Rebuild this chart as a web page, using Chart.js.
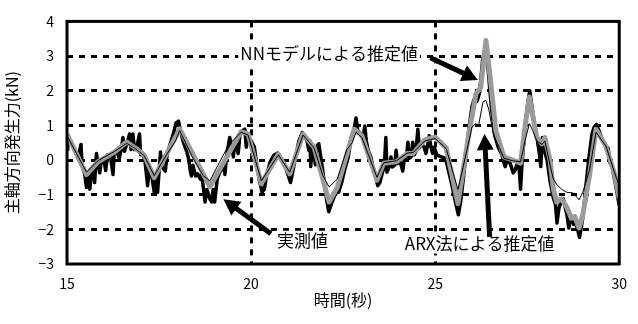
<!DOCTYPE html>
<html lang="ja">
<head>
<meta charset="utf-8">
<title>主軸方向発生力</title>
<script src="https://cdn.jsdelivr.net/npm/chart.js@4.4.0/dist/chart.umd.min.js"></script>
<style>
html, body { margin: 0; padding: 0; background: #fff; }
canvas { display: block; }
</style>
</head>
<body>
<canvas id="c" width="638" height="324"></canvas>
<script>
// 時間(秒), 主軸方向発生力(kN)
const measured = [
  [15.00,0.30],[15.02,0.68],[15.10,0.55],[15.20,0.30],[15.30,0.05],[15.38,0.45],[15.41,-0.15],[15.48,-0.40],
  [15.53,-0.79],[15.57,-0.45],[15.62,-0.84],[15.66,-0.40],[15.72,-0.25],[15.75,-0.65],[15.78,-0.15],[15.80,0.19],
  [15.84,-0.10],[15.89,-0.37],[15.93,-0.05],[16.00,0.05],[16.05,-0.30],[16.10,0.15],[16.18,0.10],[16.25,-0.42],
  [16.28,0.20],[16.35,0.25],[16.42,0.05],[16.48,0.35],[16.52,0.65],[16.56,0.25],[16.62,0.45],[16.70,0.75],
  [16.74,0.30],[16.79,0.75],[16.83,0.30],[16.90,0.40],[16.97,0.75],[17.00,0.15],[17.06,0.20],[17.12,-0.05],
  [17.19,-0.74],[17.23,-0.25],[17.30,-0.45],[17.37,-0.93],[17.42,-0.55],[17.46,-0.93],[17.50,-0.35],[17.54,0.23],
  [17.58,-0.20],[17.67,-0.32],[17.72,0.15],[17.80,0.45],[17.90,0.80],[17.96,1.07],[18.03,1.12],[18.08,0.85],
  [18.15,0.55],[18.25,0.25],[18.30,0.05],[18.35,-0.32],[18.38,-0.46],[18.42,-0.15],[18.49,-0.46],[18.55,-0.40],
  [18.62,-0.55],[18.66,-0.42],[18.71,-0.85],[18.75,-1.21],[18.80,-0.85],[18.88,-1.12],[18.93,-1.21],[18.97,-0.85],
  [19.01,-1.21],[19.08,-0.55],[19.15,-0.35],[19.20,-0.28],[19.25,-0.05],[19.29,-0.42],[19.33,0.10],[19.42,0.65],
  [19.47,0.40],[19.52,0.09],[19.56,0.55],[19.65,0.19],[19.70,0.75],[19.77,0.85],[19.83,0.89],[19.87,0.37],
  [19.92,0.70],[20.00,0.56],[20.09,0.37],[20.15,-0.10],[20.22,-0.55],[20.30,-0.93],[20.36,-0.84],[20.42,-0.45],
  [20.52,-0.05],[20.62,0.14],[20.72,0.20],[20.80,0.05],[20.85,0.00],[20.90,-0.09],[20.98,-0.35],[21.07,-0.65],
  [21.13,-0.35],[21.22,0.15],[21.30,0.55],[21.39,0.79],[21.45,0.70],[21.52,0.55],[21.57,0.28],[21.60,0.55],
  [21.62,-0.19],[21.66,0.45],[21.75,-0.14],[21.79,0.40],[21.84,0.47],[21.92,-0.10],[22.00,-0.75],[22.06,-1.20],
  [22.11,-1.49],[22.20,-1.21],[22.30,-0.95],[22.38,-0.93],[22.46,-0.65],[22.55,-0.25],[22.64,0.09],[22.72,0.65],
  [22.80,0.90],[22.85,1.21],[22.90,0.84],[22.98,0.75],[23.05,0.70],[23.09,0.98],[23.13,0.55],[23.18,0.28],
  [23.25,0.10],[23.31,-0.19],[23.38,-0.45],[23.44,-0.74],[23.50,-0.65],[23.57,-0.35],[23.62,-0.20],[23.66,0.65],
  [23.69,-0.35],[23.75,-0.20],[23.80,0.09],[23.84,-0.20],[23.90,-0.15],[23.94,0.28],[23.98,-0.10],[24.05,-0.05],
  [24.12,-0.32],[24.16,0.00],[24.22,0.05],[24.26,0.51],[24.30,0.05],[24.35,0.10],[24.39,0.51],[24.43,0.15],
  [24.48,0.25],[24.53,0.89],[24.57,0.35],[24.64,0.45],[24.70,0.37],[24.75,0.19],[24.80,0.45],[24.84,0.70],
  [24.88,0.40],[24.93,0.19],[24.97,0.37],[25.05,0.14],[25.15,0.10],[25.28,0.05],[25.35,-0.25],[25.45,-0.70],
  [25.55,-1.20],[25.63,-1.58],[25.70,-1.15],[25.78,-0.40],[25.86,0.40],[25.93,1.00],[26.00,1.55],[26.08,1.82],
  [26.14,1.70],[26.21,1.96],[26.29,2.90],[26.37,3.30],[26.44,2.60],[26.52,1.60],[26.62,0.70],[26.72,0.35],
  [26.80,0.19],[26.90,-0.19],[26.96,0.00],[27.04,-0.10],[27.12,-0.37],[27.18,-0.28],[27.24,-0.05],[27.28,-0.20],
  [27.32,-0.84],[27.36,-0.10],[27.44,0.90],[27.51,1.60],[27.57,2.00],[27.62,1.60],[27.70,1.00],[27.78,0.55],
  [27.83,0.19],[27.87,-0.19],[27.91,0.65],[27.96,0.30],[28.04,0.00],[28.12,-0.60],[28.20,-1.05],[28.27,-1.30],
  [28.31,-1.82],[28.36,-1.40],[28.42,-1.20],[28.48,-1.12],[28.54,-1.40],[28.58,-1.58],[28.63,-1.96],[28.68,-1.68],
  [28.72,-1.75],[28.76,-1.86],[28.82,-1.80],[28.88,-2.05],[28.92,-2.23],[28.96,-2.00],[29.02,-1.60],[29.10,-0.70],
  [29.18,0.10],[29.26,0.75],[29.32,0.95],[29.38,1.03],[29.45,0.85],[29.52,0.65],[29.58,0.50],[29.62,0.40],
  [29.66,0.28],[29.70,0.35],[29.75,-0.09],[29.80,-0.15],[29.88,-0.60],[29.94,-0.95],[30.00,-1.30]
];

const nnEstimate = [
  [15.00,0.75],[15.53,-0.42],[15.84,-0.05],[16.29,0.23],[16.62,0.52],[16.83,0.37],[17.10,0.14],[17.37,-0.51],
  [18.06,0.90],[18.88,-0.77],[19.73,0.82],[19.92,0.75],[20.28,-0.68],[20.74,0.17],[21.05,-0.40],[21.41,0.75],
  [21.71,0.37],[22.12,-1.21],[22.34,-0.79],[22.80,0.89],[23.01,0.70],[23.42,-0.58],[23.60,-0.09],[23.95,-0.05],
  [24.24,0.19],[24.40,0.19],[24.72,0.58],[25.00,0.66],[25.30,0.35],[25.62,-1.26],[25.93,0.84],[26.11,1.91],
  [26.24,2.10],[26.38,3.45],[26.51,2.23],[26.65,0.84],[26.87,0.09],[27.10,0.00],[27.32,-0.09],[27.45,1.03],
  [27.56,1.82],[27.76,0.65],[27.90,0.47],[27.98,0.65],[28.12,0.00],[28.21,-0.84],[28.30,-1.21],[28.43,-1.12],
  [28.57,-1.35],[28.70,-1.68],[28.79,-1.63],[28.91,-1.96],[29.01,-1.58],[29.19,-0.46],[29.37,0.89],[29.64,0.40],
  [29.87,-0.40],[30.00,-1.10]
];

const arxEstimate = [
  [15.00,0.70],[15.53,-0.35],[15.84,-0.02],[16.29,0.25],[16.62,0.48],[16.83,0.35],[17.10,0.12],[17.37,-0.45],
  [17.70,0.15],[17.95,0.55],[18.06,0.85],[18.40,0.10],[18.70,-0.45],[18.88,-0.60],[19.10,-0.15],[19.40,0.45],
  [19.73,0.80],[19.92,0.72],[20.28,-0.60],[20.74,0.15],[21.05,-0.35],[21.41,0.72],[21.71,0.35],[21.95,-0.45],
  [22.12,-0.78],[22.34,-0.55],[22.60,0.30],[22.75,0.50],[22.85,0.80],[23.01,0.65],[23.42,-0.50],[23.60,-0.08],
  [23.95,-0.02],[24.24,0.20],[24.40,0.22],[24.72,0.55],[25.00,0.62],[25.30,0.33],[25.62,-0.85],[25.93,0.60],
  [26.00,0.95],[26.10,1.05],[26.18,1.00],[26.30,1.68],[26.38,1.72],[26.46,1.45],[26.58,0.75],[26.87,0.05],
  [27.10,-0.02],[27.32,-0.05],[27.45,0.60],[27.56,1.05],[27.65,0.85],[27.76,0.55],[27.90,0.45],[27.98,0.55],
  [28.12,-0.15],[28.21,-0.55],[28.30,-0.70],[28.43,-0.84],[28.57,-0.93],[28.75,-0.95],[28.91,-1.15],[29.01,-0.93],
  [29.19,-0.30],[29.37,0.80],[29.64,0.40],[29.87,-0.35],[30.00,-0.75]
];

const seriesNames = ['実測値', 'NNモデルによる推定値', 'ARX法による推定値'];
const xTickLabels = ['15', '20', '25', '30'];
const yTickLabels = ['−3', '−2', '−1', '0', '1', '2', '3', '4'];
const xTitle = '時間(秒)';
const yTitle = '主軸方向発生力(kN)';

// Callout text position and arrow tail/head, in axis units
const callouts = [
  { name: 1, at: [22.12, 3.06], from: [24.87, 2.95], to: [26.16, 2.31] },
  { name: 2, at: [26.21, -2.41], from: [26.48, -2.22], to: [26.34, 0.75] },
  { name: 0, at: [21.40, -2.33], from: [20.54, -2.13], to: [19.25, -1.13] }
];

const FONT = '"Noto Sans CJK JP", "Noto Sans", sans-serif';
Chart.defaults.font.family = FONT;
Chart.defaults.color = '#000';

const toXY = arr => arr.map(p => ({ x: p[0], y: p[1] }));

function drawArrow(ctx, x0, y0, x1, y1, shaft, headLen, headW) {
  const ang = Math.atan2(y1 - y0, x1 - x0);
  const c = Math.cos(ang), s = Math.sin(ang);
  const bx = x1 - headLen * c, by = y1 - headLen * s;
  ctx.lineWidth = shaft;
  ctx.lineCap = 'butt';
  ctx.beginPath();
  ctx.moveTo(x0, y0);
  ctx.lineTo(bx + c, by + s);
  ctx.stroke();
  ctx.beginPath();
  ctx.moveTo(x1, y1);
  ctx.lineTo(bx + headW / 2 * s, by - headW / 2 * c);
  ctx.lineTo(bx - headW / 2 * s, by + headW / 2 * c);
  ctx.closePath();
  ctx.fill();
}

// Heavy plot frame plus the labelled arrows
const frameAndCallouts = {
  id: 'frameAndCallouts',
  afterDatasetsDraw(chart) {
    const { ctx, chartArea: a, scales: { x, y } } = chart;
    ctx.save();
    ctx.strokeStyle = '#000';
    ctx.lineWidth = 3;
    ctx.strokeRect(a.left, a.top, a.right - a.left, a.bottom - a.top);

    ctx.font = '17px ' + FONT;
    ctx.textAlign = 'center';
    ctx.textBaseline = 'middle';
    for (const c of callouts) {
      const text = seriesNames[c.name];
      const px = x.getPixelForValue(c.at[0]);
      const py = y.getPixelForValue(c.at[1]);
      const w = ctx.measureText(text).width;
      ctx.fillStyle = '#fff';
      ctx.fillRect(px - w / 2 - 2, py - 10, w + 4, 20);
      ctx.fillStyle = '#000';
      ctx.fillText(text, px, py);
      drawArrow(ctx,
        x.getPixelForValue(c.from[0]), y.getPixelForValue(c.from[1]),
        x.getPixelForValue(c.to[0]), y.getPixelForValue(c.to[1]),
        5, 16, 17);
    }
    ctx.restore();
  }
};

const edgeClear = (min, max) => ctx =>
  (ctx.tick && (ctx.tick.value === min || ctx.tick.value === max)) ? 'rgba(0,0,0,0)' : '#000';

new Chart(document.getElementById('c'), {
  type: 'line',
  data: {
    datasets: [
      { label: seriesNames[2], data: toXY(arxEstimate), borderColor: '#000', borderWidth: 1, order: 0 },
      { label: seriesNames[1], data: toXY(nnEstimate), borderColor: '#9a9a9a', borderWidth: 5, order: 1 },
      { label: seriesNames[0], data: toXY(measured), borderColor: '#000', borderWidth: 3.5, order: 2 }
    ]
  },
  options: {
    responsive: false,
    animation: false,
    devicePixelRatio: 1,
    elements: { point: { radius: 0 }, line: { tension: 0, borderJoinStyle: 'round', fill: false } },
    layout: { padding: { top: 13, right: 13, left: 0, bottom: 0 } },
    plugins: { legend: { display: false }, tooltip: { enabled: false } },
    scales: {
      x: {
        type: 'linear', min: 15, max: 30,
        afterFit: s => { s.height = 60; },
        ticks: { stepSize: 5, padding: 11, font: { size: 14 }, maxRotation: 0,
                 callback: (v, i) => xTickLabels[i] },
        grid: { color: edgeClear(15, 30), lineWidth: 3, drawTicks: false },
        border: { display: false, dash: [6, 6] },
        title: { display: true, text: xTitle, font: { size: 16 }, padding: { top: 0, bottom: 14 } }
      },
      y: {
        type: 'linear', min: -3, max: 4,
        afterFit: s => { s.width = 67; },
        ticks: { stepSize: 1, padding: 13, font: { size: 14 },
                 callback: (v, i) => yTickLabels[i] },
        grid: { color: edgeClear(-3, 4), lineWidth: 3, drawTicks: false },
        border: { display: false, dash: [6, 6] },
        title: { display: true, text: yTitle, font: { size: 16 }, padding: { top: 2, bottom: 0 } }
      }
    }
  },
  plugins: [frameAndCallouts]
});
</script>
</body>
</html>
